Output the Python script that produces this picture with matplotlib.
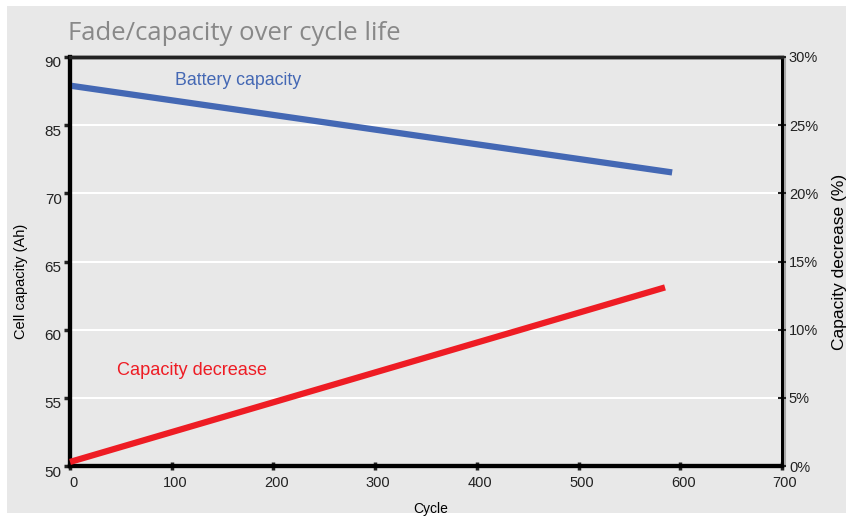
import numpy as np
import matplotlib.pyplot as plt
import matplotlib.transforms as mtransforms
from matplotlib.patches import Rectangle

# values
cycles_cap = [0, 592]
capacity_ah = [87.9, 74.6]
cycles_dec = [0, 585]
decrease_pct = [0.3, 13.1]

left_ticks = [50, 55, 60, 65, 70, 85, 90]
right_ticks = [0, 5, 10, 15, 20, 25, 30]
x_ticks = [0, 100, 200, 300, 400, 500, 600, 700]

blue = '#4468b4'
red = '#ee1c24'
bg = '#e8e8e8'

plt.rcParams['font.family'] = ['Liberation Sans', 'DejaVu Sans']

# left axis labels are evenly spaced but not linear in value
pos = np.arange(len(left_ticks))
def fwd(v):
    return np.interp(v, left_ticks, pos)
def inv(p):
    return np.interp(p, pos, left_ticks)

fig = plt.figure(figsize=(8.55, 5.2), dpi=100)
fig.patch.set_facecolor('white')
fig.patches.append(Rectangle((0.0082, 0.0135), 0.981, 0.975, transform=fig.transFigure,
                             facecolor=bg, edgecolor='none', zorder=-10))

ax = fig.add_axes([0.0819, 0.1038, 0.8327, 0.7866])
ax.set_facecolor(bg)
ax.set_yscale('function', functions=(fwd, inv))
ax.set_ylim(50, 90)
ax.set_xlim(0, 700)
ax.set_yticks(left_ticks)
ax.set_yticklabels([str(t) for t in left_ticks])
ax.set_xticks(x_ticks)
ax.minorticks_off()

for t in left_ticks[1:-1]:
    ax.axhline(t, color='white', lw=1.5, zorder=1)

ax.plot(cycles_cap, capacity_ah, color=blue, lw=4.5, solid_capstyle='butt', zorder=3, clip_on=False)

ax2 = ax.twinx()
ax2.set_ylim(0, 30)
ax2.set_yticks(right_ticks)
ax2.set_yticklabels([f'{t}%' for t in right_ticks])
ax2.plot(cycles_dec, decrease_pct, color=red, lw=4.5, solid_capstyle='butt', zorder=3, clip_on=False)

for a in (ax, ax2):
    a.spines['left'].set_linewidth(3)
    a.spines['bottom'].set_linewidth(3)
    a.spines['top'].set_linewidth(2.5)
    a.spines['top'].set_color('#222222')
    a.spines['right'].set_linewidth(2)

# faint grey shadow next to the right axis line
ax2.plot([1.004, 1.004], [0, 1], transform=ax2.transAxes, color='#a8a8a8', lw=1.5,
         clip_on=False, zorder=0)

ax.tick_params(axis='y', direction='out', length=4, width=2.5, labelsize=11, pad=2, colors='#222222')
ax.tick_params(axis='x', direction='inout', length=6, width=2.5, labelsize=10.5, pad=4, colors='#222222')
ax2.tick_params(axis='y', direction='inout', length=6, width=1.5, labelsize=10.5, pad=2, colors='#222222')

# left labels sit a little below their ticks in the original
down = mtransforms.ScaledTranslation(0, -5 / 100, fig.dpi_scale_trans)
for lab in ax.get_yticklabels():
    lab.set_transform(lab.get_transform() + down)
right_shift = mtransforms.ScaledTranslation(3 / 100, 0, fig.dpi_scale_trans)
for lab in ax.get_xticklabels():
    lab.set_transform(lab.get_transform() + right_shift)

ax.set_xlabel('Cycle', fontsize=10)
ax.xaxis.set_label_coords(0.507, -0.088)
ax.set_ylabel('Cell capacity (Ah)', fontsize=10.5)
ax.yaxis.set_label_coords(-0.059, 0.452)
ax2.set_ylabel('Capacity decrease (%)', fontsize=12.5, labelpad=10)

ax.text(103, 88.3, 'Battery capacity', color=blue, fontsize=12.8, va='center')
ax2.text(46, 7.0, 'Capacity decrease', color=red, fontsize=13.1, va='center')

fig.text(0.08, 0.936, 'Fade/capacity over cycle life', family=['Open Sans', 'DejaVu Sans'],
         fontsize=18.5, color='#888888', va='center')

fig.savefig('out.png', dpi=100, facecolor=fig.get_facecolor())
